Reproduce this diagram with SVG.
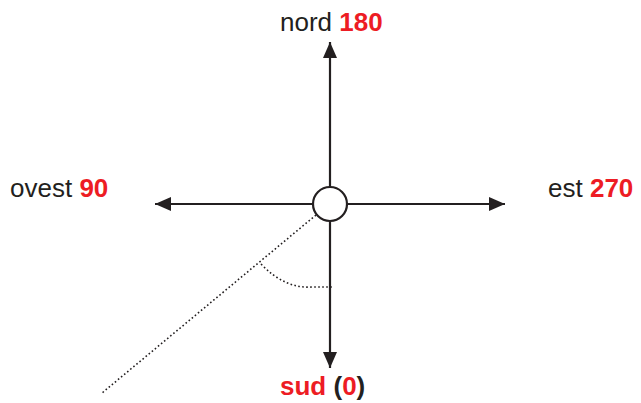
<svg xmlns="http://www.w3.org/2000/svg" width="641" height="403" viewBox="0 0 641 403">
<style>
.ax{stroke:#231f20;stroke-width:2.2;fill:none}
.dot{stroke:#231f20;stroke-width:1.6;fill:none;stroke-dasharray:1.6 2.4}
text{font-family:"Liberation Sans",Arial,sans-serif;font-size:26px;fill:#231f20}
.r{fill:#ed1c24;font-weight:bold}
.b{font-weight:bold}
</style>
<defs>
<marker id="ah" viewBox="0 0 16 14" refX="16" refY="7" markerWidth="16" markerHeight="14" markerUnits="userSpaceOnUse" orient="auto">
<path d="M0,0 L16,7 L0,14 Z" fill="#231f20"/>
</marker>
</defs>
<g id="connectors">
<line class="ax" x1="330" y1="187" x2="330" y2="42" marker-end="url(#ah)"/>
<line class="ax" x1="330" y1="221" x2="330" y2="368" marker-end="url(#ah)"/>
<line class="ax" x1="313" y1="204" x2="155" y2="204" marker-end="url(#ah)"/>
<line class="ax" x1="347" y1="204" x2="505" y2="204" marker-end="url(#ah)"/>
<line class="dot" x1="316" y1="215" x2="102" y2="393"/>
<path class="dot" d="M261,264 Q285,289 312,287 L334,287"/>
</g>
<g id="center">
<circle cx="330" cy="204" r="17" fill="#fff" stroke="#231f20" stroke-width="2.2"/>
</g>
<g id="nord"><text x="280" y="31">nord <tspan class="r">180</tspan></text></g>
<g id="ovest"><text x="10" y="197">ovest <tspan class="r">90</tspan></text></g>
<g id="est"><text x="548" y="197">est <tspan class="r">270</tspan></text></g>
<g id="sud"><text x="280" y="395" class="b"><tspan class="r">sud</tspan> (<tspan class="r">0</tspan>)</text></g>
</svg>
